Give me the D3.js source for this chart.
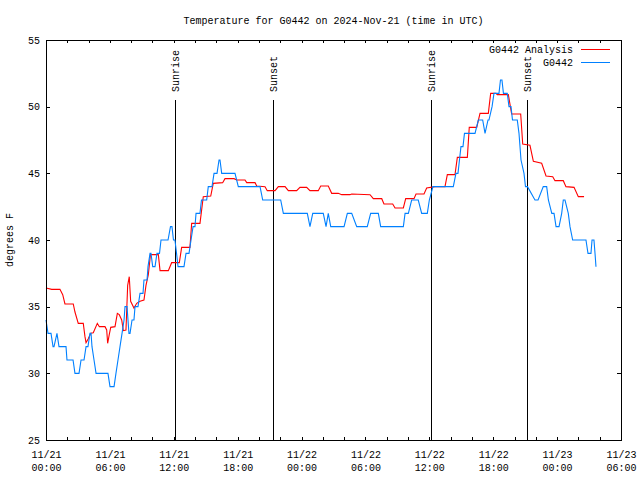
<!DOCTYPE html>
<html>
<head>
<meta charset="utf-8">
<script src="https://cdn.jsdelivr.net/npm/d3@7/dist/d3.min.js"></script>
<style>
  html, body { margin: 0; padding: 0; background: #fff; }
  svg text { font-family: "Liberation Mono", "DejaVu Sans Mono", monospace; font-size: 10px; fill: #000; }
</style>
</head>
<body>
<svg id="chart" width="640" height="480"></svg>
<script>
// ---- Data (hours since 2024-11-21 00:00 UTC) ----
const titleText = "Temperature for G0442 on 2024-Nov-21 (time in UTC)";
const yLabel = "degrees F";
const seriesNames = ["G0442 Analysis", "G0442"];
const yTicks = [25, 30, 35, 40, 45, 50, 55];
const xMajorHours = [0, 6, 12, 18, 24, 30, 36, 42, 48, 54];
const eventNames = ["Sunrise", "Sunset", "Sunrise", "Sunset"];
const eventHours = [12.11, 21.32, 36.13, 45.20];

const analysisHours = [0, 0.54, 1.31, 1.57, 1.78, 2.56, 2.72, 3.03, 3.50, 3.66, 3.76, 3.97, 4.20, 4.44, 4.82, 5.01, 5.54, 5.70, 5.79, 5.94, 6.08, 6.48, 6.70, 6.88, 7.11, 7.26, 7.51, 7.67, 7.82, 7.95, 8.26, 8.52, 8.83, 9.20, 9.39, 9.61, 9.81, 10.55, 10.71, 11.49, 11.80, 12.52, 12.74, 13.52, 13.68, 14.46, 14.77, 15.47, 15.71, 16.59, 16.81, 17.66, 17.91, 18.69, 18.85, 19.63, 19.79, 20.57, 20.78, 21.51, 21.82, 22.45, 22.76, 23.54, 23.85, 24.48, 24.79, 25.57, 25.80, 26.51, 26.83, 27.45, 27.77, 28.55, 28.71, 30.43, 30.74, 31.53, 31.74, 32.56, 32.78, 33.56, 33.78, 34.56, 34.75, 35.50, 35.75, 36.53, 37.47, 37.69, 38.41, 38.63, 39.57, 39.75, 40.45, 40.76, 41.54, 41.76, 42.26, 42.38, 43.42, 43.73, 44.58, 44.77, 45.45, 45.77, 46.55, 46.96, 47.59, 47.80, 48.58, 48.83, 49.59, 49.99, 50.53];
const analysisTemps = [36.4, 36.3, 36.3, 35.9, 35.2, 35.2, 34.6, 33.75, 33.75, 32.75, 32.3, 32.6, 33.0, 33.05, 33.75, 33.5, 33.5, 33.25, 32.25, 32.9, 33.45, 33.5, 34.5, 34.4, 34.0, 33.2, 33.25, 36.6, 37.25, 35.4, 34.9, 35.25, 35.4, 35.5, 36.6, 37.4, 38.9, 38.9, 37.7, 37.7, 38.3, 38.3, 39.45, 39.45, 41.25, 41.25, 43.25, 43.3, 44.25, 44.3, 44.6, 44.6, 44.5, 44.5, 44.3, 44.3, 44.05, 44.0, 43.7, 43.7, 44.0, 44.0, 43.7, 43.7, 43.95, 43.95, 43.7, 43.7, 44.05, 44.05, 43.5, 43.5, 43.4, 43.4, 43.45, 43.4, 43.1, 43.1, 42.7, 42.7, 42.4, 42.4, 43.1, 43.1, 43.45, 43.45, 43.9, 44.0, 44.0, 44.9, 44.9, 46.2, 46.2, 48.45, 48.45, 49.5, 49.5, 51.0, 51.0, 50.9, 50.9, 49.45, 49.45, 47.2, 47.1, 45.9, 45.75, 44.8, 44.75, 44.45, 44.45, 44.0, 43.95, 43.25, 43.25];

const obsHours = [0, 0.19, 0.47, 0.66, 0.75, 1.03, 1.22, 1.88, 1.97, 2.54, 2.72, 3.10, 3.29, 3.57, 3.76, 3.94, 4.13, 4.23, 4.32, 4.51, 4.70, 5.82, 6.01, 6.39, 6.57, 6.76, 6.95, 7.14, 7.33, 7.42, 7.61, 7.70, 7.79, 7.89, 8.08, 8.26, 8.36, 8.64, 8.83, 9.11, 9.20, 9.49, 9.58, 9.77, 9.86, 10.02, 10.24, 10.42, 10.66, 10.80, 11.46, 11.69, 11.83, 11.97, 12.11, 12.26, 12.40, 12.96, 13.15, 13.43, 13.62, 13.81, 13.99, 14.09, 14.46, 14.60, 15.09, 15.24, 15.59, 15.78, 16.06, 16.25, 16.34, 16.50, 17.75, 18.06, 20.10, 20.35, 22.04, 22.29, 24.54, 24.79, 25.05, 26.04, 26.30, 26.51, 26.74, 27.99, 28.30, 28.71, 29.18, 30.17, 30.49, 31.21, 31.43, 33.56, 33.72, 34.03, 34.34, 34.96, 35.28, 35.81, 36.00, 36.34, 38.25, 38.50, 38.69, 38.83, 38.97, 39.16, 39.30, 40.29, 40.60, 41.01, 41.23, 41.51, 41.60, 41.89, 42.07, 42.54, 42.68, 42.82, 42.96, 43.32, 43.48, 43.67, 43.81, 44.26, 44.42, 44.61, 44.89, 45.03, 45.22, 45.92, 46.21, 46.70, 47.02, 47.18, 47.50, 47.71, 47.90, 48.18, 48.43, 48.58, 48.74, 49.05, 49.21, 49.46, 49.77, 50.71, 50.90, 51.18, 51.28, 51.46, 51.56, 51.65, 51.78];
const obsTemps = [34, 33, 33, 32, 32, 33, 32, 32, 31, 31, 30, 30, 31, 31, 32, 32, 33, 33, 32, 31, 30, 30, 29, 29, 30, 31, 32, 33, 34, 35, 35, 34, 33, 33, 34, 34, 35, 35, 36, 36, 37, 37, 38, 39, 39, 38, 38, 39, 39, 40, 40, 41, 41, 40, 40, 39, 38, 38, 39, 39, 40, 41, 41, 42, 42, 43, 43, 44, 44, 45, 45, 46, 46, 45, 45, 44, 44, 43, 43, 42, 42, 41, 42, 42, 41, 42, 41, 41, 42, 42, 41, 41, 42, 42, 41, 41, 42, 42, 43, 43, 42, 42, 43, 44, 44, 45, 45, 46, 47, 47, 48, 48, 49, 49, 48, 49, 49, 50, 51, 51, 52, 52, 51, 51, 50, 50, 49, 49, 48, 46, 45, 44, 44, 43, 43, 44, 44, 43, 42, 42, 41, 41, 42, 43, 43, 42, 41, 40, 40, 40, 39, 39, 40, 40, 39, 38];

// ---- Setup ----
const HOUR = 3600 * 1000;
const t0 = Date.UTC(2024, 10, 21, 0, 0);
const toDate = h => new Date(t0 + h * HOUR);

const L = 46, R = 621, T = 40, B = 440;
const svg = d3.select("#chart");

const x = d3.scaleUtc().domain([toDate(0), toDate(54)]).range([L, R]);
const y = d3.scaleLinear().domain([25, 55]).range([B, T]);

const analysis = analysisHours.map((h, i) => ({ t: toDate(h), v: analysisTemps[i] }));
const obs = obsHours.map((h, i) => ({ t: toDate(h), v: obsTemps[i] }));

// Title
svg.append("text").attr("x", (L + R) / 2).attr("y", 24).attr("text-anchor", "middle").text(titleText);

// Y label
svg.append("text").attr("transform", "translate(13,240) rotate(-90)").attr("text-anchor", "middle").text(yLabel);

const minorVals = d3.range(0, 55, 2).map(toDate);
const majorVals = xMajorHours.map(toDate);
const fmtDate = d3.utcFormat("%m/%d"), fmtTime = d3.utcFormat("%H:%M");

// Bottom minor ticks
svg.append("g").attr("transform", `translate(0,${B})`)
  .call(d3.axisBottom(x).tickValues(minorVals).tickSize(-3).tickFormat(""))
  .call(g => g.select(".domain").remove());
// Top minor ticks
svg.append("g").attr("transform", `translate(0,${T})`)
  .call(d3.axisTop(x).tickValues(minorVals).tickSize(-3).tickFormat(""))
  .call(g => g.select(".domain").remove());
// Bottom major labels
const xg = svg.append("g").attr("transform", `translate(0,${B})`)
  .call(d3.axisBottom(x).tickValues(majorVals).tickSize(-3).tickPadding(0).tickFormat(""))
  .call(g => g.select(".domain").remove());
xg.selectAll(".tick text").each(function(d) {
  const t = d3.select(this).attr("y", null).attr("dy", null);
  t.append("tspan").attr("x", 0).attr("y", 18).text(fmtDate(d));
  t.append("tspan").attr("x", 0).attr("y", 31).text(fmtTime(d));
});

// Y axis left & right
const yg = svg.append("g").attr("transform", `translate(${L},0)`)
  .call(d3.axisLeft(y).tickValues(yTicks).tickSize(-4).tickPadding(6))
  .call(g => g.select(".domain").remove());
svg.append("g").attr("transform", `translate(${R},0)`)
  .call(d3.axisRight(y).tickValues(yTicks).tickSize(-4).tickFormat(""))
  .call(g => g.select(".domain").remove());

svg.selectAll(".tick line").attr("stroke", "#000").attr("shape-rendering", "crispEdges");
svg.selectAll("g").attr("font-family", null).attr("font-size", null);

// Event lines
eventHours.forEach((h, i) => {
  const ex = Math.round(x(toDate(h))) + 0.5;
  svg.append("line").attr("x1", ex).attr("x2", ex).attr("y1", 100).attr("y2", B)
    .attr("stroke", "#000").attr("stroke-width", 1).attr("shape-rendering", "crispEdges");
  svg.append("text").attr("transform", `translate(${ex + 3},92) rotate(-90)`)
    .attr("text-anchor", "start").text(eventNames[i]);
});

// Lines
const line = d3.line().x(d => x(d.t)).y(d => y(d.v));
svg.append("path").datum(analysis).attr("d", line).attr("fill", "none")
  .attr("stroke", "#ff0000").attr("stroke-width", 1.1);
svg.append("path").datum(obs).attr("d", line).attr("fill", "none")
  .attr("stroke", "#0080ff").attr("stroke-width", 1.1);

// Border
svg.append("rect").attr("x", L + 0.5).attr("y", T + 0.5).attr("width", R - L).attr("height", B - T)
  .attr("fill", "none").attr("stroke", "#000").attr("shape-rendering", "crispEdges");

// Legend
const legColors = ["#ff0000", "#0080ff"];
seriesNames.forEach((name, i) => {
  const ly = 49 + i * 13;
  svg.append("text").attr("x", 573).attr("y", ly + 3.5).attr("text-anchor", "end").text(name);
  svg.append("line").attr("x1", 581).attr("x2", 610).attr("y1", ly + 0.5).attr("y2", ly + 0.5)
    .attr("stroke", legColors[i]).attr("shape-rendering", "crispEdges");
});
</script>
</body>
</html>
